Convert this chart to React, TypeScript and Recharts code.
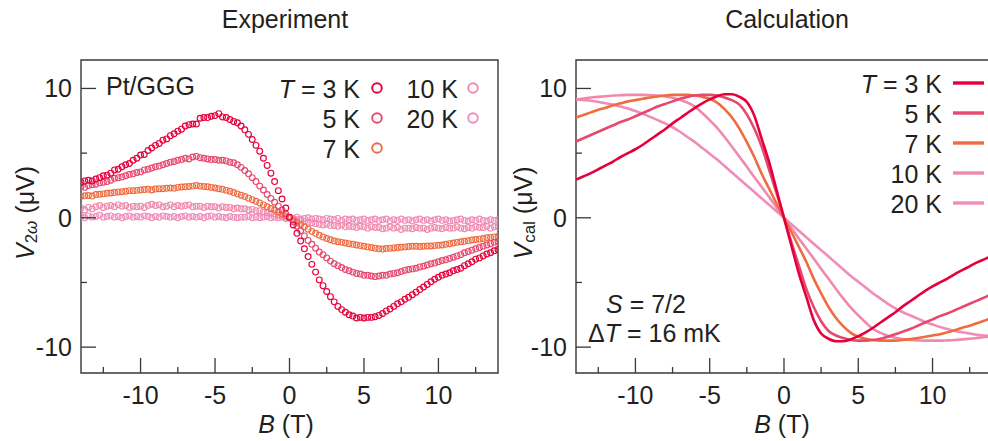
import React from "react";
import { ScatterChart, Scatter, LineChart, Line, XAxis, YAxis, ReferenceArea } from "recharts";

// field sweep (T) for the measured curves
const bExp = [
  -14, -13.75, -13.5, -13.25, -13, -12.75, -12.5, -12.25,
  -12, -11.75, -11.5, -11.25, -11, -10.75, -10.5, -10.25,
  -10, -9.75, -9.5, -9.25, -9, -8.75, -8.5, -8.25,
  -8, -7.75, -7.5, -7.25, -7, -6.75, -6.5, -6.25,
  -6, -5.75, -5.5, -5.25, -5, -4.75, -4.5, -4.25,
  -4, -3.75, -3.5, -3.25, -3, -2.75, -2.5, -2.25,
  -2, -1.75, -1.5, -1.25, -1, -0.75, -0.5, -0.25,
  0, 0.25, 0.5, 0.75, 1, 1.25, 1.5, 1.75,
  2, 2.25, 2.5, 2.75, 3, 3.25, 3.5, 3.75,
  4, 4.25, 4.5, 4.75, 5, 5.25, 5.5, 5.75,
  6, 6.25, 6.5, 6.75, 7, 7.25, 7.5, 7.75,
  8, 8.25, 8.5, 8.75, 9, 9.25, 9.5, 9.75,
  10, 10.25, 10.5, 10.75, 11, 11.25, 11.5, 11.75,
  12, 12.25, 12.5, 12.75, 13, 13.25, 13.5, 13.75,
  14,
];

// V_2w (uV), experiment
const exp3K = [
  2.75, 2.85, 2.9, 2.85, 3.0, 3.1, 3.25, 3.3,
  3.45, 3.7, 3.75, 3.95, 4.1, 4.2, 4.45, 4.6,
  4.85, 4.9, 5.2, 5.4, 5.6, 5.75, 6.0, 6.1,
  6.35, 6.5, 6.7, 6.85, 7.1, 7.2, 7.25, 7.25,
  7.7, 7.75, 7.75, 7.85, 7.9, 8.05, 7.8, 7.75,
  7.6, 7.45, 7.35, 7.1, 6.8, 6.45, 6.05, 5.6,
  5.15, 4.6, 4.05, 3.45, 2.8, 2.1, 1.45, 0.75,
  0.05, -0.55, -1.2, -1.8, -2.4, -3.0, -3.6, -4.2,
  -4.8, -5.25, -5.7, -6.1, -6.5, -6.85, -7.1, -7.3,
  -7.5, -7.6, -7.75, -7.7, -7.75, -7.7, -7.7, -7.65,
  -7.55, -7.4, -7.2, -7.05, -6.85, -6.65, -6.5, -6.3,
  -6.15, -5.95, -5.75, -5.55, -5.35, -5.15, -4.95, -4.75,
  -4.6, -4.45, -4.35, -4.25, -4.1, -4.0, -3.9, -3.7,
  -3.55, -3.4, -3.2, -3.1, -2.95, -2.8, -2.7, -2.55,
  -2.45,
];
const exp5K = [
  2.4, 2.35, 2.5, 2.55, 2.6, 2.7, 2.75, 2.8,
  2.9, 3.05, 3.1, 3.15, 3.25, 3.35, 3.4, 3.5,
  3.55, 3.7, 3.75, 3.85, 3.95, 4.0, 4.1, 4.2,
  4.3, 4.35, 4.45, 4.5, 4.6, 4.55, 4.7, 4.75,
  4.65, 4.6, 4.55, 4.5, 4.5, 4.45, 4.45, 4.4,
  4.3, 4.25, 4.1, 3.9, 3.65, 3.4, 3.1, 2.8,
  2.45, 2.15, 1.8, 1.5, 1.2, 0.9, 0.6, 0.3,
  0.0, -0.3, -0.65, -1.0, -1.4, -1.75, -2.05, -2.35,
  -2.65, -2.85, -3.1, -3.35, -3.55, -3.7, -3.85, -4.0,
  -4.1, -4.2, -4.3, -4.35, -4.45, -4.45, -4.5, -4.55,
  -4.5, -4.45, -4.45, -4.35, -4.3, -4.25, -4.15, -4.05,
  -4.0, -3.95, -3.9, -3.8, -3.75, -3.65, -3.55, -3.5,
  -3.4, -3.3, -3.25, -3.15, -3.05, -2.95, -2.85, -2.7,
  -2.6, -2.5, -2.4, -2.3, -2.2, -2.1, -2.0, -1.9,
  -1.85,
];
const exp7K = [
  1.65, 1.7, 1.72, 1.68, 1.8, 1.82, 1.85, 1.9,
  1.92, 1.95, 2.0, 2.02, 2.05, 2.1, 2.1, 2.12,
  2.15, 2.18, 2.2, 2.15, 2.22, 2.25, 2.25, 2.28,
  2.3, 2.28, 2.35, 2.38, 2.4, 2.42, 2.45, 2.5,
  2.45, 2.42, 2.4, 2.35, 2.3, 2.25, 2.2, 2.12,
  2.05, 1.95, 1.85, 1.75, 1.65, 1.52, 1.4, 1.28,
  1.15, 1.0, 0.85, 0.72, 0.6, 0.45, 0.3, 0.15,
  0.0, -0.18, -0.35, -0.52, -0.7, -0.88, -1.05, -1.2,
  -1.35, -1.48, -1.6, -1.7, -1.8, -1.85, -1.9, -1.95,
  -2.0, -2.05, -2.1, -2.15, -2.2, -2.25, -2.3, -2.35,
  -2.4, -2.42, -2.38, -2.35, -2.33, -2.3, -2.28, -2.25,
  -2.22, -2.2, -2.2, -2.22, -2.2, -2.18, -2.18, -2.15,
  -2.12, -2.1, -2.05, -2.0, -1.95, -1.9, -1.85, -1.82,
  -1.78, -1.72, -1.68, -1.65, -1.6, -1.55, -1.52, -1.48,
  -1.45,
];
const exp10K = [
  0.75, 0.6, 0.8, 0.7, 0.85, 0.95, 0.8, 0.9,
  0.95, 0.85, 1.0, 0.9, 0.95, 0.8, 0.9, 0.85,
  0.9, 0.8, 0.95, 1.05, 0.95, 1.0, 0.85, 0.9,
  1.0, 0.85, 0.95, 0.9, 0.95, 1.0, 0.85, 0.9,
  0.9, 0.8, 0.9, 0.85, 0.85, 0.75, 0.85, 0.8,
  0.8, 0.7, 0.75, 0.7, 0.7, 0.6, 0.65, 0.55,
  0.55, 0.45, 0.4, 0.35, 0.3, 0.2, 0.15, 0.05,
  0.0, -0.1, -0.15, -0.2, -0.3, -0.35, -0.4, -0.45,
  -0.5, -0.55, -0.5, -0.6, -0.6, -0.65, -0.55, -0.7,
  -0.65, -0.7, -0.75, -0.65, -0.7, -0.8, -0.7, -0.75,
  -0.75, -0.85, -0.8, -0.7, -0.8, -0.75, -0.9, -0.8,
  -0.8, -0.85, -0.75, -0.8, -0.8, -0.9, -0.8, -0.75,
  -0.8, -0.85, -0.75, -0.8, -0.8, -0.7, -0.8, -0.85,
  -0.75, -0.8, -0.7, -0.75, -0.75, -0.65, -0.8, -0.7,
  -0.7,
];
const exp20K = [
  0.1, 0.0, 0.15, 0.05, 0.1, 0.2, 0.05, 0.1,
  0.15, 0.05, 0.1, 0.0, 0.1, 0.15, 0.05, 0.1,
  0.05, 0.15, 0.1, 0.0, 0.1, 0.05, 0.15, 0.1,
  0.05, 0.1, 0.0, 0.1, 0.15, 0.05, 0.1, 0.05,
  0.1, 0.0, 0.1, 0.15, 0.05, 0.1, 0.05, 0.0,
  0.1, 0.05, 0.0, 0.05, 0.05, 0.1, 0.0, 0.05,
  0.0, 0.05, 0.1, 0.0, 0.05, 0.0, 0.05, -0.05,
  0.0, -0.05, 0.05, -0.1, -0.05, 0.0, -0.1, -0.05,
  -0.1, -0.15, -0.05, -0.1, -0.15, -0.05, -0.2, -0.1,
  -0.15, -0.1, -0.2, -0.15, -0.1, -0.2, -0.15, -0.1,
  -0.2, -0.15, -0.1, -0.25, -0.15, -0.2, -0.1, -0.2,
  -0.15, -0.25, -0.15, -0.1, -0.2, -0.15, -0.25, -0.15,
  -0.1, -0.2, -0.15, -0.25, -0.2, -0.15, -0.1, -0.2,
  -0.25, -0.15, -0.2, -0.1, -0.2, -0.25, -0.15, -0.2,
  -0.15,
];

// field grid (T) for the calculated curves
const bCalc = [
  -14, -13.5, -13, -12.5, -12, -11.5, -11, -10.5,
  -10, -9.5, -9, -8.5, -8, -7.5, -7, -6.5,
  -6, -5.5, -5, -4.5, -4, -3.5, -3, -2.5,
  -2, -1.5, -1, -0.5, 0, 0.5, 1, 1.5,
  2, 2.5, 3, 3.5, 4, 4.5, 5, 5.5,
  6, 6.5, 7, 7.5, 8, 8.5, 9, 9.5,
  10, 10.5, 11, 11.5, 12, 12.5, 13, 13.5,
  14,
];

// V_cal (uV)
const calc3K = [
  2.95, 3.2, 3.45, 3.75, 4.05, 4.35, 4.7, 5.0,
  5.3, 5.65, 6.05, 6.45, 6.85, 7.3, 7.7, 8.1,
  8.5, 8.85, 9.15, 9.4, 9.55, 9.55, 9.35, 8.95,
  7.9, 6.1, 4.3, 2.15, 0, -2.15, -4.3, -6.1,
  -7.9, -8.95, -9.35, -9.55, -9.55, -9.4, -9.15, -8.85,
  -8.5, -8.1, -7.7, -7.3, -6.85, -6.45, -6.05, -5.65,
  -5.3, -5.0, -4.7, -4.35, -4.05, -3.75, -3.45, -3.2,
  -2.95,
];
const calc5K = [
  5.9, 6.15, 6.4, 6.65, 6.9, 7.15, 7.4, 7.6,
  7.85, 8.1, 8.35, 8.6, 8.8, 9.0, 9.2, 9.35,
  9.45, 9.5, 9.5, 9.45, 9.3, 9.1, 8.75, 8.0,
  6.9, 5.5, 3.7, 1.9, 0, -1.9, -3.7, -5.5,
  -6.9, -8.0, -8.75, -9.1, -9.3, -9.45, -9.5, -9.5,
  -9.45, -9.35, -9.2, -9.0, -8.8, -8.6, -8.35, -8.1,
  -7.85, -7.6, -7.4, -7.15, -6.9, -6.65, -6.4, -6.15,
  -5.9,
];
const calc7K = [
  7.75, 7.95, 8.15, 8.35, 8.5, 8.7, 8.85, 9.0,
  9.1, 9.2, 9.3, 9.38, 9.45, 9.5, 9.5, 9.5,
  9.45, 9.35, 9.2, 8.9, 8.4, 7.75, 6.9, 5.85,
  4.7, 3.4, 2.25, 1.1, 0, -1.1, -2.25, -3.4,
  -4.7, -5.85, -6.9, -7.75, -8.4, -8.9, -9.2, -9.35,
  -9.45, -9.5, -9.5, -9.5, -9.45, -9.38, -9.3, -9.2,
  -9.1, -9.0, -8.85, -8.7, -8.5, -8.35, -8.15, -7.95,
  -7.75,
];
const calc10K = [
  9.15, 9.22, 9.3, 9.35, 9.4, 9.45, 9.48, 9.5,
  9.5, 9.5, 9.48, 9.45, 9.38, 9.28, 9.12, 8.9,
  8.6, 8.1, 7.55, 6.95, 6.25, 5.5, 4.72, 3.95,
  3.15, 2.38, 1.6, 0.8, 0, -0.8, -1.6, -2.38,
  -3.15, -3.95, -4.72, -5.5, -6.25, -6.95, -7.55, -8.1,
  -8.6, -8.9, -9.12, -9.28, -9.38, -9.45, -9.48, -9.5,
  -9.5, -9.5, -9.48, -9.45, -9.4, -9.35, -9.3, -9.22,
  -9.15,
];
const calc20K = [
  9.15, 9.1, 9.05, 8.95, 8.85, 8.75, 8.6, 8.45,
  8.25, 8.05, 7.8, 7.55, 7.3, 7.0, 6.65, 6.25,
  5.85, 5.4, 4.95, 4.5, 4.0, 3.5, 3.0, 2.5,
  2.0, 1.5, 1.0, 0.5, 0, -0.5, -1.0, -1.5,
  -2.0, -2.5, -3.0, -3.5, -4.0, -4.5, -4.95, -5.4,
  -5.85, -6.25, -6.65, -7.0, -7.3, -7.55, -7.8, -8.05,
  -8.25, -8.45, -8.6, -8.75, -8.85, -8.95, -9.05, -9.1,
  -9.15,
];

const tempLabels = ["3 K", "5 K", "7 K", "10 K", "20 K"];
const tempKeys = ["t3", "t5", "t7", "t10", "t20"];
const tempColors = ["#e5003c", "#e6496e", "#ee6c40", "#f08aad", "#ef8cba"];

const xTicks = [-12.5, -10, -7.5, -5, -2.5, 0, 2.5, 5, 7.5, 10, 12.5];
const yTicks = [-10, -5, 0, 5, 10];

const ink = "#231f20";
const axisInk = "#3b3735";
const font = '"Liberation Sans", Arial, Helvetica, sans-serif';
const fs = 25;

const expSeries = [exp3K, exp5K, exp7K, exp10K, exp20K];
const expData = expSeries.map((vals) => bExp.map((b, i) => ({ b, v: vals[i] })));
const calcSeries = [calc3K, calc5K, calc7K, calc10K, calc20K];
const calcRows = bCalc.map((b, i) => {
  const row: Record<string, number> = { b };
  tempKeys.forEach((k, j) => (row[k] = calcSeries[j][i]));
  return row;
});
const drawOrder = [4, 3, 2, 1, 0];

// inward ticks, labels outside
function BottomTick(props: any) {
  const { x, y, payload } = props;
  const v = payload.value;
  const major = v % 5 === 0;
  return (
    <g>
      <line x1={x} x2={x} y1={y} y2={y - (major ? 15 : 6)} stroke={axisInk} strokeWidth={1.3} />
      {major && (
        <text x={x} y={y + 31} textAnchor="middle" fontSize={fs} fontFamily={font} fill={ink}>
          {v}
        </text>
      )}
    </g>
  );
}

function LeftTick(props: any) {
  const { x, y, payload } = props;
  const v = payload.value;
  const major = v % 10 === 0;
  return (
    <g>
      <line x1={x} x2={x + (major ? 15 : 6)} y1={y} y2={y} stroke={axisInk} strokeWidth={1.3} />
      {major && (
        <text x={x - 9} y={y + 9} textAnchor="end" fontSize={fs} fontFamily={font} fill={ink}>
          {v}
        </text>
      )}
    </g>
  );
}

const ring = (color: string) => (p: any) =>
  <circle cx={p.cx} cy={p.cy} r={2.9} fill="none" stroke={color} strokeWidth={1.15} />;

const txt = { fontSize: fs, fontFamily: font, fill: ink };

export default function App() {
  return (
    <div style={{ position: "absolute", left: 0, top: 0, width: 988, height: 441, overflow: "hidden", background: "#fff" }}>
      {/* Experiment */}
      <div style={{ position: "absolute", left: 0, top: 0 }}>
        <ScatterChart width={500} height={441} margin={{ top: 60, right: 2, bottom: 0, left: 0 }}>
          <XAxis
            type="number" dataKey="b" domain={[-14, 14]} ticks={xTicks} interval={0}
            tickSize={0} tickMargin={0} tickLine={false} axisLine={false}
            tick={<BottomTick />} height={68} allowDataOverflow
          />
          <YAxis
            type="number" dataKey="v" domain={[-12, 12.2]} ticks={yTicks} interval={0}
            tickSize={0} tickMargin={0} tickLine={false} axisLine={false}
            tick={<LeftTick />} width={81} allowDataOverflow
          />
          <ReferenceArea x1={-14} x2={14} y1={-12} y2={12.2} fill="none" stroke={axisInk} strokeWidth={1.4} ifOverflow="visible" />
          {drawOrder.map((i) => (
            <Scatter
              key={tempKeys[i]}
              data={expData[i]}
              shape={ring(tempColors[i])}
              isAnimationActive={false}
            />
          ))}
        </ScatterChart>
      </div>

      {/* Calculation */}
      <div style={{ position: "absolute", left: 500, top: 0 }}>
        <LineChart width={489} height={441} data={calcRows} margin={{ top: 60, right: 0, bottom: 0, left: 0 }}>
          <XAxis
            type="number" dataKey="b" domain={[-14, 13.8]} ticks={xTicks} interval={0}
            tickSize={0} tickMargin={0} tickLine={false} axisLine={false}
            tick={<BottomTick />} height={68} allowDataOverflow
          />
          <YAxis
            type="number" domain={[-12, 12.2]} ticks={yTicks} interval={0}
            tickSize={0} tickMargin={0} tickLine={false} axisLine={false}
            tick={<LeftTick />} width={76} allowDataOverflow
          />
          <ReferenceArea x1={-14} x2={13.8} y1={-12} y2={12.2} fill="none" stroke={axisInk} strokeWidth={1.4} ifOverflow="visible" />
          {drawOrder.map((i) => (
            <Line
              key={tempKeys[i]}
              type="monotone"
              dataKey={tempKeys[i]}
              stroke={tempColors[i]}
              strokeWidth={2.6}
              dot={false}
              isAnimationActive={false}
            />
          ))}
        </LineChart>
      </div>

      {/* titles, axis labels, legends, notes */}
      <svg width={988} height={441} style={{ position: "absolute", left: 0, top: 0, pointerEvents: "none" }}>
        <text x={285} y={28} textAnchor="middle" {...txt}>Experiment</text>
        <text x={787} y={28} textAnchor="middle" {...txt}>Calculation</text>

        <text transform="translate(25,213) rotate(-90)" y={9} textAnchor="middle" {...txt}>
          <tspan fontStyle="italic">V</tspan>
          <tspan fontSize={17} dy={3}>2<tspan fontStyle="italic">ω</tspan></tspan>
          <tspan dy={-3}> (μV)</tspan>
        </text>
        <text transform="translate(523,213) rotate(-90)" y={9} textAnchor="middle" {...txt}>
          <tspan fontStyle="italic">V</tspan>
          <tspan fontSize={17} dy={3}>cal</tspan>
          <tspan dy={-3}> (μV)</tspan>
        </text>

        <text x={286} y={433} textAnchor="middle" {...txt}>
          <tspan fontStyle="italic">B</tspan> (T)
        </text>
        <text x={782} y={433} textAnchor="middle" {...txt}>
          <tspan fontStyle="italic">B</tspan> (T)
        </text>

        <text x={106} y={95} {...txt}>Pt/GGG</text>

        {tempLabels.map((lab, i) => {
          const col = i < 3 ? 0 : 1;
          const row = i < 3 ? i : i - 3;
          const tx = col === 0 ? 360 : 458;
          const cx = col === 0 ? 377 : 473;
          const base = 98 + row * 30;
          return (
            <g key={"l" + i}>
              <text x={tx} y={base} textAnchor="end" {...txt}>
                {i === 0 && <tspan fontStyle="italic">T</tspan>}
                {i === 0 ? " = " + lab : lab}
              </text>
              <circle cx={cx} cy={base - 10} r={4.8} fill="none" stroke={tempColors[i]} strokeWidth={1.9} />
            </g>
          );
        })}

        {tempLabels.map((lab, i) => {
          const ly = 83 + i * 30;
          return (
            <g key={"r" + i}>
              <text x={942} y={ly + 10} textAnchor="end" {...txt}>
                {i === 0 && <tspan fontStyle="italic">T</tspan>}
                {i === 0 ? " = " + lab : lab}
              </text>
              <line x1={953} x2={984} y1={ly} y2={ly} stroke={tempColors[i]} strokeWidth={3.4} />
            </g>
          );
        })}

        <text x={606} y={313} {...txt}>
          <tspan fontStyle="italic">S</tspan> = 7/2
        </text>
        <text x={588} y={342} {...txt}>
          Δ<tspan fontStyle="italic">T</tspan> = 16 mK
        </text>
      </svg>
    </div>
  );
}
